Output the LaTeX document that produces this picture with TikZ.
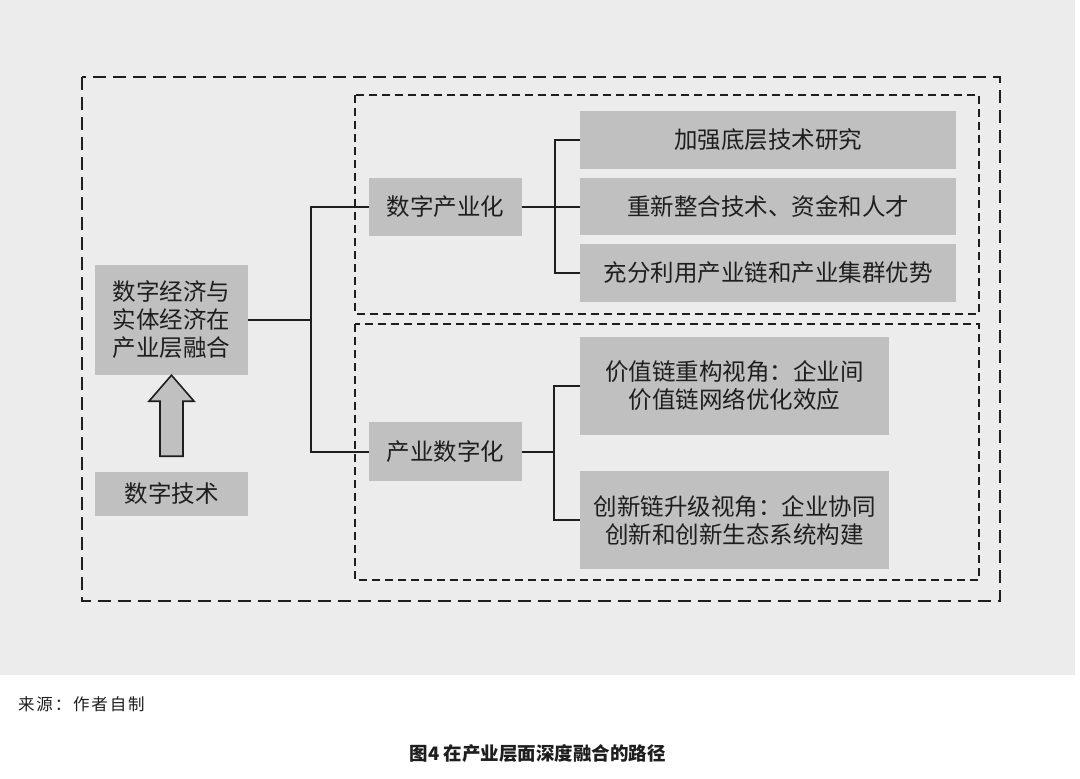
\documentclass[tikz,border=0pt]{standalone}
\usepackage{fontspec}
\newfontfamily\cjk{Noto Sans CJK SC}
\usetikzlibrary{calc}
\definecolor{bggray}{HTML}{ECECEC}
\definecolor{boxgray}{HTML}{C0C0C0}
\definecolor{ink}{HTML}{1E1E1E}
\tikzset{
  gbox/.style={fill=boxgray, inner sep=0pt, align=center, text=ink,
    font=\cjk\fontsize{23.5}{28}\selectfont},
  outerdash/.style={draw=ink, line width=1.8pt, dash pattern=on 13pt off 7pt},
  innerdash/.style={draw=ink, line width=1.4pt, dash pattern=on 8pt off 5pt},
  conn/.style={draw=ink, line width=2pt},
}
\begin{document}
\begin{tikzpicture}[x=1pt,y=-1pt]
\useasboundingbox (0,0) rectangle (1080,779);
\fill[white] (0,0) rectangle (1080,779);
\fill[bggray] (0,0) rectangle (1075,675);
% dashed frames
\draw[outerdash] (82,77) rectangle (1000,601);
\draw[innerdash] (355,95) rectangle (979,314);
\draw[innerdash] (355,324) rectangle (979,580);
% boxes
\node[gbox, minimum width=153pt, minimum height=110pt] (main) at (171.5,320) {数字经济与\\实体经济在\\产业层融合};
\node[gbox, minimum width=153pt, minimum height=44pt] (tech) at (171.5,494) {数字技术};
\node[gbox, minimum width=153pt, minimum height=58pt] (dsc) at (445.5,207) {数字产业化};
\node[gbox, minimum width=153pt, minimum height=59pt] (cys) at (445.5,451.5) {产业数字化};
\node[gbox, minimum width=376pt, minimum height=58pt] (r1) at (768,140) {加强底层技术研究};
\node[gbox, minimum width=376pt, minimum height=57pt] (r2) at (768,206.5) {重新整合技术、资金和人才};
\node[gbox, minimum width=376pt, minimum height=58pt] (r3) at (768,272.5) {充分利用产业链和产业集群优势};
\node[gbox, minimum width=309pt, minimum height=98pt] (r4) at (734.5,386) {价值链重构视角：企业间\\价值链网络优化效应};
\node[gbox, minimum width=309pt, minimum height=98pt] (r5) at (734.5,520) {创新链升级视角：企业协同\\创新和创新生态系统构建};
% connectors
\coordinate (j1) at (311,0);
\coordinate (j2) at (555,0);
\coordinate (j3) at (554,0);
\draw[conn] (main.east) -- (main.east -| j1);
\draw[conn] (dsc.west) -- (dsc.west -| j1) -- (cys.west -| j1) -- (cys.west);
\draw[conn] (dsc.east) -- (dsc.east -| j2);
\draw[conn] (r1.west) -- (r1.west -| j2) -- (r3.west -| j2) -- (r3.west);
\draw[conn] (r2.west) -- (r2.west -| j2);
\draw[conn] (cys.east) -- (cys.east -| j3);
\draw[conn] (r4.west) -- (r4.west -| j3) -- (r5.west -| j3) -- (r5.west);
% block arrow
\draw[draw=ink, line width=1.6pt, fill=boxgray, line join=miter]
  (main.south) -- ++(22.5,26) -- ++(-11,0) -- ++(0,55) -- ++(-23,0) -- ++(0,-55) -- ++(-11,0) -- cycle;
% captions
\node[anchor=west, inner sep=0pt, text=ink, font=\cjk\fontsize{16.5}{18}\selectfont\addfontfeatures{LetterSpace=11}] (src) at (18,704) {来源：作者自制};
\node[inner sep=0pt, text=ink, font=\cjk\bfseries\fontsize{18.5}{20}\selectfont] (cap) at (537.5,754) {图4\ 在产业层面深度融合的路径};
\end{tikzpicture}
\end{document}
